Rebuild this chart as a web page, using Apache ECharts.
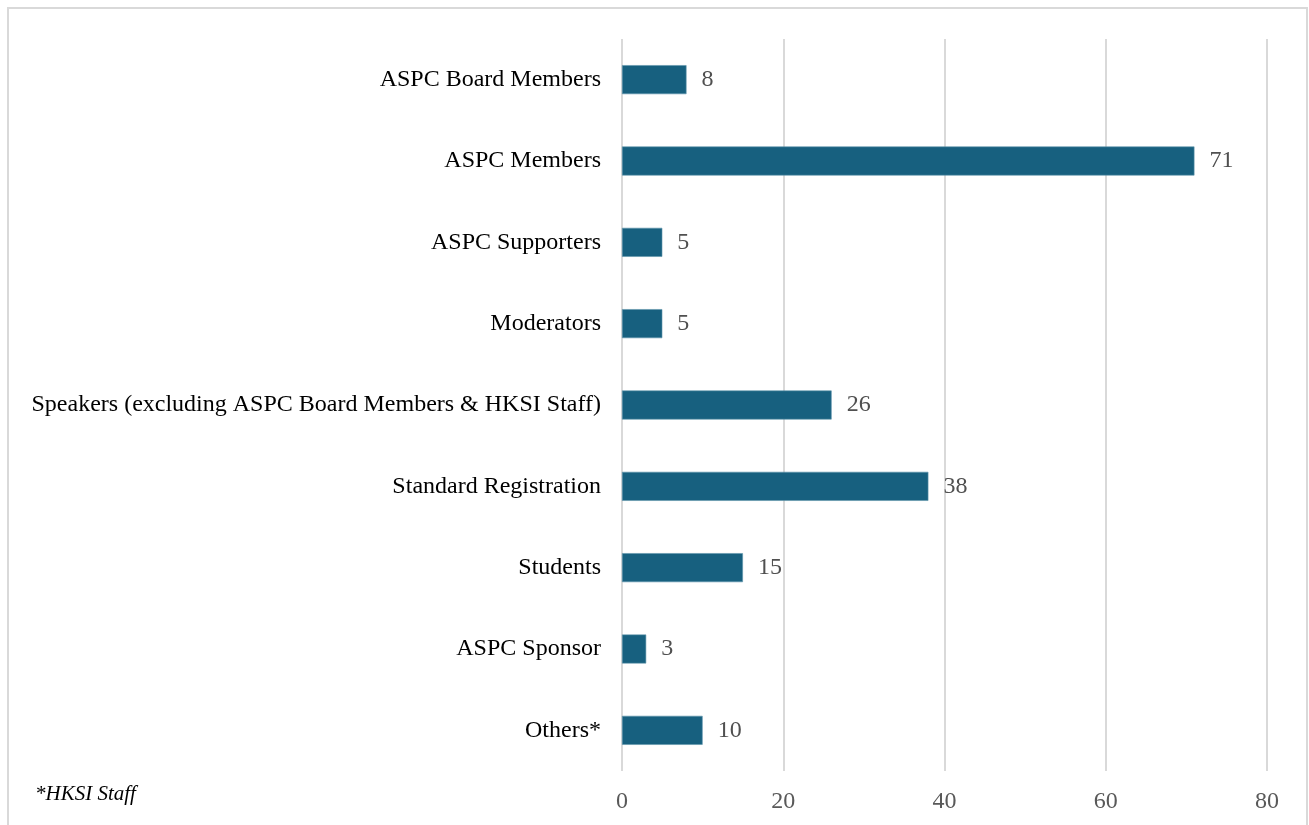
<!DOCTYPE html>
<html>
<head>
<meta charset="utf-8">
<script src="https://cdn.jsdelivr.net/npm/echarts@6/dist/echarts.min.js"></script>
<style>
  html, body { margin: 0; padding: 0; background: #fff; }
  #chart { width: 1309px; height: 825px; }
</style>
</head>
<body>
<div id="chart"></div>
<script>
// categories top to bottom
const categories = [
  "ASPC Board Members",
  "ASPC Members",
  "ASPC Supporters",
  "Moderators",
  "Speakers (excluding ASPC Board Members & HKSI Staff)",
  "Standard Registration",
  "Students",
  "ASPC Sponsor",
  "Others*"
];
const counts = [8, 71, 5, 5, 26, 38, 15, 3, 10];
const xTicks = [0, 20, 40, 60, 80];

const chart = echarts.init(document.getElementById("chart"));
const font = "'Liberation Serif', 'Times New Roman', serif";

chart.setOption({
  animation: false,
  textStyle: { fontFamily: font },
  graphic: [
    {
      type: "rect",
      shape: { x: 8, y: 8, width: 1299, height: 840 },
      style: { fill: "none", stroke: "#d9d9d9", lineWidth: 2 },
      silent: true
    },
    {
      type: "text",
      left: 35,
      top: 784,
      style: {
        text: "*HKSI Staff",
        font: "italic 21px " + font,
        fill: "#000"
      }
    }
  ],
  grid: { left: 622, right: 42, top: 39, bottom: 54 },
  xAxis: {
    type: "value",
    min: 0,
    max: 80,
    interval: 20,
    axisLine: { show: false },
    axisTick: { show: false },
    splitLine: { lineStyle: { color: "#d9d9d9", width: 2 } },
    axisLabel: {
      color: "#595959",
      fontSize: 24,
      fontFamily: font,
      margin: 19,
      formatter: v => (xTicks.includes(v) ? String(v) : "")
    }
  },
  yAxis: {
    type: "category",
    inverse: true,
    data: categories,
    axisLine: { show: false },
    axisTick: { show: false },
    axisLabel: { color: "#000", fontSize: 24, fontFamily: font, margin: 21 }
  },
  series: [
    {
      type: "bar",
      data: counts,
      barWidth: 29,
      itemStyle: { color: "#17607f", borderColor: "#5e93ab", borderWidth: 0.6 },
      label: {
        show: true,
        position: "right",
        distance: 15,
        color: "#505050",
        fontSize: 24,
        fontFamily: font
      }
    }
  ]
});
</script>
</body>
</html>
